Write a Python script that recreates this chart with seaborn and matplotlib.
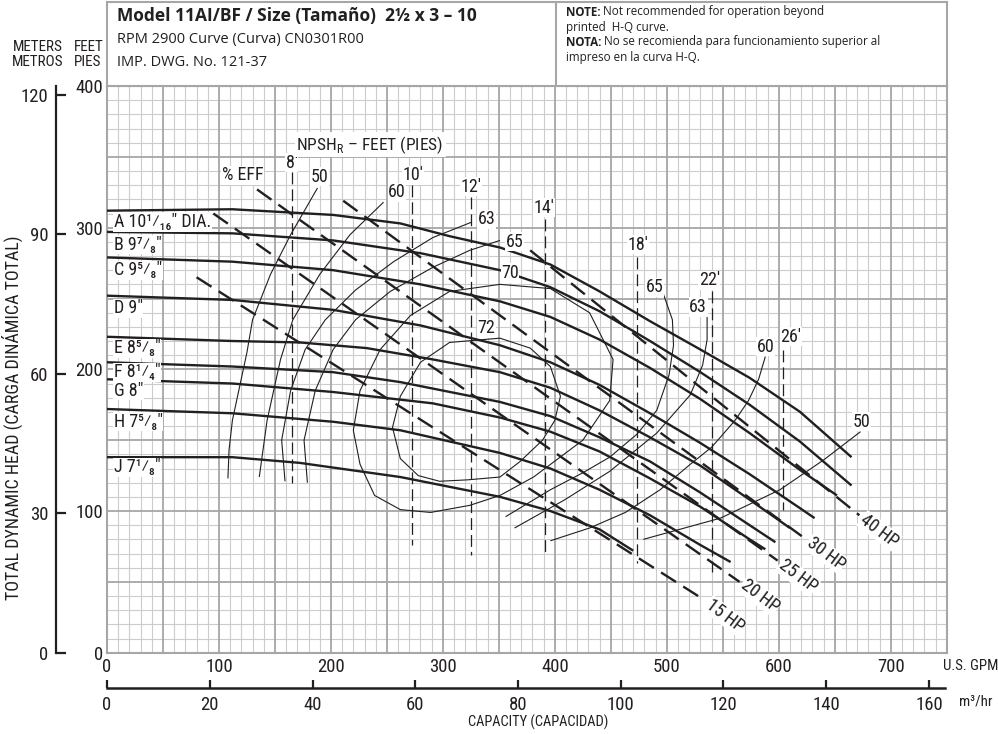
import numpy as np
import pandas as pd
import matplotlib
matplotlib.use("Agg")
import matplotlib.pyplot as plt
import seaborn as sns
from matplotlib import font_manager as fm

# ---------------- data (GPM, feet) ----------------
A_gpm = [0, 112, 202, 262, 306, 351, 396, 440, 485, 530, 574, 619, 665]
A_ft = [312, 313, 309, 303, 294, 286, 274, 255, 234, 214, 194, 170, 138]
B_gpm = [0, 112, 202, 280, 351, 396, 440, 485, 530, 574, 619, 665]
B_ft = [297, 296, 291, 282, 270, 258, 241, 220, 198, 175, 149, 118]
C_gpm = [0, 112, 202, 280, 351, 396, 440, 485, 530, 574, 619, 652]
C_ft = [279, 276, 270, 260, 248, 237, 221, 201, 179, 155, 129, 111]
D_gpm = [0, 112, 202, 280, 351, 396, 440, 485, 530, 574, 619, 632]
D_ft = [252, 249, 242, 231, 217, 205, 189, 169, 148, 126, 102, 95]
E_gpm = [0, 112, 172, 232, 291, 351, 396, 440, 485, 530, 574, 610]
E_ft = [223, 220, 219, 215, 207, 198, 187, 171, 152, 132, 108, 88]
F_gpm = [0, 112, 202, 262, 351, 396, 440, 485, 530, 574, 597]
F_ft = [205, 202, 198, 191, 177, 167, 152, 135, 113, 90, 78]
G_gpm = [0, 112, 202, 291, 351, 396, 440, 485, 530, 574, 588]
G_ft = [193, 190, 184, 176, 166, 156, 142, 123, 103, 80, 73]
H_gpm = [0, 112, 202, 262, 351, 396, 440, 485, 530, 557]
H_ft = [172, 169, 163, 157, 141, 130, 115, 97, 76, 64]
J_gpm = [0, 112, 172, 262, 351, 396, 440, 470]
J_ft = [138, 138, 134, 124, 110, 100, 87, 72]

dia_text = ['A 10\u00b9\u2044\u2081\u2086" DIA.', 'B 9\u2077\u2044\u2088"', 'C 9\u2075\u2044\u2088"',
            'D 9"', 'E 8\u2075\u2044\u2088"', 'F 8\u00b9\u2044\u2084"', 'G 8"',
            'H 7\u2075\u2044\u2088"', 'J 7\u00b9\u2044\u2088"']
dia_label_ft = [304, 288, 270, 243, 215, 198, 185, 163, 131]

# efficiency curves
E50L_gpm = [108, 109, 112, 125, 130, 146, 164, 188]
E50L_ft = [123, 143, 164, 212, 235, 267, 295, 328]
E60L_gpm = [136, 143, 155, 166, 190, 217, 247]
E60L_ft = [124, 164, 207, 235, 267, 295, 318]
E63L_gpm = [159, 156, 164, 177, 195, 222, 256, 291, 326]
E63L_ft = [121, 150, 185, 214, 235, 256, 276, 293, 304]
E65L_gpm = [179, 176, 186, 202, 222, 253, 291, 324, 351]
E65L_ft = [120, 150, 185, 214, 235, 255, 272, 284, 291]
E70_gpm = [220, 226, 239, 262, 289, 324, 351, 381, 425, 449, 452, 431, 396, 351, 306, 271, 244, 226, 220]
E70_ft = [157, 133, 111, 101, 99, 104, 111, 124, 150, 178, 207, 240, 257, 260, 255, 238, 214, 185, 157]
E72_gpm = [255, 262, 280, 306, 351, 378, 396, 405, 400, 389, 369, 351, 322, 297, 278, 262, 255]
E72_ft = [159, 181, 205, 219, 222, 215, 202, 181, 164, 150, 135, 124, 122, 121, 125, 137, 159]
E65R_gpm = [497, 505, 506, 502, 491, 473, 449, 425, 396, 356]
E65R_ft = [253, 235, 217, 196, 171, 154, 138, 127, 115, 96]
E63R_gpm = [536, 536, 532, 521, 491, 449, 409, 364]
E63R_ft = [238, 221, 203, 182, 155, 128, 108, 88]
E60R_gpm = [588, 582, 573, 561, 540, 521, 494, 463, 431, 396]
E60R_ft = [209, 193, 178, 164, 145, 133, 115, 99, 88, 79]
E50R_gpm = [673, 640, 601, 548, 479]
E50R_ft = [156, 136, 115, 95, 80]

eff_label_text = ['50', '60', '63', '65', '70', '72', '65', '63', '60', '50']
eff_label_gpm = [190, 259, 339, 364, 360, 339, 489, 528, 588, 674]
eff_label_ft = [336, 325, 306, 290, 268, 229, 258, 244, 216, 163]

# NPSHr lines
npsh_labels = ["8'", "10'", "12'", "14'", "18'", "22'", "26'"]
npsh_gpm = [165, 272, 325, 391, 473, 540, 604]
npsh_top = [339, 330, 322, 306, 279, 255, 214]
npsh_bot = [120, 76, 69, 71, 63, 57, 101]
npsh_label_gpm = [165, 273, 325, 390, 474, 538, 611]
npsh_label_ft = [346, 337, 329, 314, 288, 263, 223]

# horsepower lines
hp_labels = ['15 HP', '20 HP', '25 HP', '30 HP', '40 HP']
hp_start_gpm = [80, 95, 134, 211, 378]
hp_start_ft = [265, 310, 327, 319, 284]
hp_end_gpm = [530, 565, 599, 621, 672]
hp_end_ft = [39, 50, 65, 82, 97]
hp_label_gpm = [552, 583, 617, 642, 690]
hp_label_ft = [26, 40, 54, 70, 86]

gpm_ticks = [0, 100, 200, 300, 400, 500, 600, 700]
ft_ticks = [0, 100, 200, 300, 400]
m_ticks = [0, 30, 60, 90, 120]
m3_ticks = [0, 20, 40, 60, 80, 100, 120, 140, 160]

# ---------------- fonts ----------------
sns.set_theme(style="white")
names = {f.name for f in fm.fontManager.ttflist}
REG = 'Open Sans' if 'Open Sans' in names else 'DejaVu Sans'
plt.rcParams['font.family'] = [REG, 'DejaVu Sans']

found = {}
for f in fm.fontManager.ttflist:
    st = str(f.stretch)
    if f.style == 'normal' and ('Condensed' in f.name or 'Narrow' in f.name
                                or st in ('condensed', 'semi-condensed')):
        found.setdefault(f.name, st)
COND, STRETCH, SCALE = 'DejaVu Sans', 'normal', 0.8
for p in ['Liberation Sans Narrow', 'Roboto Condensed', 'Open Sans Condensed',
          'Noto Sans Condensed', 'DejaVu Sans Condensed', 'DejaVu Sans']:
    if p in found:
        COND, STRETCH, SCALE = p, found[p], 1.04
        break
plt.rcParams['mathtext.fontset'] = 'custom'
plt.rcParams['mathtext.rm'] = COND


def cf(size):
    return dict(family=[COND, 'DejaVu Sans'], stretch=STRETCH, fontsize=size * SCALE)


INK = '#231f20'
GRIDMAJ = '#a6a6a6'
GRIDMIN = '#cccccc'

W, H = 998, 734
L, R, T, B = 107, 946.7, 86, 652.7
fig = plt.figure(figsize=(W / 100, H / 100), dpi=100)
fig.patch.set_facecolor('white')

ax = fig.add_axes([L / W, 1 - B / H, (R - L) / W, (B - T) / H])
ax.set_xlim(0, 750)
ax.set_ylim(0, 400)
ax.set_facecolor('white')

# grid
for g in np.arange(0, 751, 10):
    if g % 50:
        ax.axvline(g, color=GRIDMIN, lw=0.8, zorder=0)
for f in np.arange(0, 401, 10):
    if f % 50:
        ax.axhline(f, color=GRIDMIN, lw=0.8, zorder=0)
for g in np.arange(0, 751, 50):
    ax.axvline(g, color=GRIDMAJ, lw=1.3, zorder=0.5)
for f in np.arange(0, 401, 50):
    ax.axhline(f, color=GRIDMAJ, lw=1.3, zorder=0.5)
for s in ax.spines.values():
    s.set_color(GRIDMAJ)
    s.set_linewidth(1.5)

ax.set_xticks(gpm_ticks)
ax.set_xticklabels([str(v) for v in gpm_ticks], color=INK, **cf(13))
ax.set_yticks(ft_ticks)
ax.set_yticklabels([str(v) for v in ft_ticks], color=INK, **cf(13))
ax.tick_params(axis='x', length=0, pad=4)
ax.tick_params(axis='y', length=0, pad=3)


def draw(x, y, lw, color=INK, dashes=None, z=3):
    sns.lineplot(x=x, y=y, ax=ax, sort=False, estimator=None, color=color,
                 linewidth=lw, zorder=z, legend=False)
    ln = ax.lines[-1]
    ln.set_solid_capstyle('butt')
    ln.set_dash_capstyle('butt')
    if dashes is not None:
        ln.set_dashes(dashes)
    return ln


for gx, fy in [(E50L_gpm, E50L_ft), (E60L_gpm, E60L_ft), (E63L_gpm, E63L_ft), (E65L_gpm, E65L_ft),
               (E70_gpm, E70_ft), (E72_gpm, E72_ft), (E65R_gpm, E65R_ft), (E63R_gpm, E63R_ft),
               (E60R_gpm, E60R_ft), (E50R_gpm, E50R_ft)]:
    draw(gx, fy, 0.8, z=2)

for g, t, b in zip(npsh_gpm, npsh_top, npsh_bot):
    draw([g, g], [t, b], 0.9, dashes=(9.5, 4), z=2)

for x0, y0, x1, y1 in zip(hp_start_gpm, hp_start_ft, hp_end_gpm, hp_end_ft):
    draw([x0, x1], [y0, y1], 1.7, dashes=(7.5, 3.6), z=3)

for gx, fy in [(A_gpm, A_ft), (B_gpm, B_ft), (C_gpm, C_ft), (D_gpm, D_ft), (E_gpm, E_ft),
               (F_gpm, F_ft), (G_gpm, G_ft), (H_gpm, H_ft), (J_gpm, J_ft)]:
    draw(gx, fy, 1.7, z=4)

WB = dict(facecolor='white', edgecolor='none', pad=0.4)
for txt, yv in zip(dia_text, dia_label_ft):
    ax.text(6, yv, txt, color=INK, ha='left', va='center', bbox=WB, zorder=5, **cf(12.5))
for txt, gx, fy in zip(eff_label_text, eff_label_gpm, eff_label_ft):
    ax.text(gx, fy, txt, color=INK, ha='center', va='center', bbox=WB, zorder=5, **cf(12.5))
for txt, gx, fy in zip(npsh_labels, npsh_label_gpm, npsh_label_ft):
    ax.text(gx, fy, txt, color=INK, ha='center', va='center', bbox=WB, zorder=5, **cf(12.5))
for txt, gx, fy in zip(hp_labels, hp_label_gpm, hp_label_ft):
    ax.text(gx, fy, txt, color=INK, ha='center', va='center', rotation=-37,
            rotation_mode='anchor', bbox=WB, zorder=5, **cf(12.5))
ax.text(121, 337, '% EFF', color=INK, ha='center', va='center', bbox=WB, zorder=5, **cf(12.5))
ax.text(235, 358.5, 'NPSH$_{\\mathregular{R}}$ \u2013 FEET (PIES)', color=INK, ha='center',
        va='center', bbox=dict(facecolor='white', edgecolor='none', pad=1.2), zorder=5, **cf(12))

# ---------------- meters axis ----------------
axm = fig.add_axes([55.5 / W, 1 - B / H, 0.0005, (B - T) / H])
axm.set_ylim(0, 400 * 0.3048)
axm.set_xticks([])
axm.set_yticks(m_ticks)
axm.set_yticklabels([str(v) for v in m_ticks], color=INK, **cf(13))
for k, s in axm.spines.items():
    s.set_visible(k == 'left')
axm.spines['left'].set_color(INK)
axm.spines['left'].set_linewidth(1.6)
axm.tick_params(axis='y', direction='in', length=7, width=1.6, color=INK, pad=5, left=True)
axm.patch.set_alpha(0)

# ---------------- m3/hr axis ----------------
axq = fig.add_axes([L / W, 1 - 687.7 / H, (945 - L) / W, 0.0005])
axq.set_xlim(0, 160 * (945 - L) / (929 - L))
axq.set_yticks([])
axq.set_xticks(m3_ticks)
axq.set_xticklabels([str(v) for v in m3_ticks], color=INK, **cf(13))
for k, s in axq.spines.items():
    s.set_visible(k == 'bottom')
axq.spines['bottom'].set_color(INK)
axq.spines['bottom'].set_linewidth(1.8)
axq.tick_params(axis='x', direction='in', length=6, width=1.6, color=INK, pad=6, bottom=True)
axq.patch.set_alpha(0)

# ---------------- header box ----------------
axh = fig.add_axes([L / W, 1 - T / H, (R - L) / W, (T - 2) / H])
axh.set_xlim(L, R)
axh.set_ylim(T, 2)
axh.set_xticks([])
axh.set_yticks([])
for s in axh.spines.values():
    s.set_color(GRIDMAJ)
    s.set_linewidth(1.5)
axh.axvline(556, color=GRIDMAJ, lw=1.5)
axh.text(117, 16, 'Model 11AI/BF / Size (Tama\u00f1o)  2\u00bd x 3 \u2013 10', fontsize=12.5,
         weight='bold', color=INK, ha='left', va='center')
axh.text(117, 40, 'RPM 2900 Curve (Curva) CN0301R00', fontsize=10.5, color=INK,
         ha='left', va='center')
axh.text(117, 63, 'IMP. DWG. No. 121-37', fontsize=10.5, color=INK, ha='left', va='center')

note_lines = [('NOTE:', ' Not recommended for operation beyond', 12),
              ('', 'printed  H-Q curve.', 27),
              ('NOTA:', ' No se recomienda para funcionamiento superior al', 42),
              ('', 'impreso en la curva H-Q.', 57)]
for bold, rest, yy in note_lines:
    if bold:
        t = axh.text(566, yy, bold, fontsize=8.4, weight='bold', color=INK, ha='left', va='center')
        axh.annotate(rest, xy=(1, 0), xycoords=t, fontsize=8.4, color=INK, ha='left', va='bottom')
    else:
        axh.text(566, yy, rest, fontsize=8.4, color=INK, ha='left', va='center')


# ---------------- figure labels ----------------
def px(x, y):
    return x / W, 1 - y / H


fig.text(*px(38, 47), 'METERS', color=INK, ha='center', va='center', **cf(10.5))
fig.text(*px(89, 47), 'FEET', color=INK, ha='center', va='center', **cf(10.5))
fig.text(*px(38, 62), 'METROS', color=INK, ha='center', va='center', **cf(10.5))
fig.text(*px(88, 62), 'PIES', color=INK, ha='center', va='center', **cf(10.5))
fig.text(*px(12, 418), 'TOTAL DYNAMIC HEAD (CARGA DIN\u00c1MICA TOTAL)', color=INK, ha='center',
         va='center', rotation=90, **cf(12.5))
fig.text(*px(943, 666), 'U.S. GPM', color=INK, ha='left', va='center', **cf(10.3))
fig.text(*px(959, 702), 'm\u00b3/hr', color=INK, ha='left', va='center', **cf(10.3))
fig.text(*px(538, 722), 'CAPACITY (CAPACIDAD)', color=INK, ha='center', va='center', **cf(10))

fig.savefig('out.png', dpi=100, facecolor='white')
